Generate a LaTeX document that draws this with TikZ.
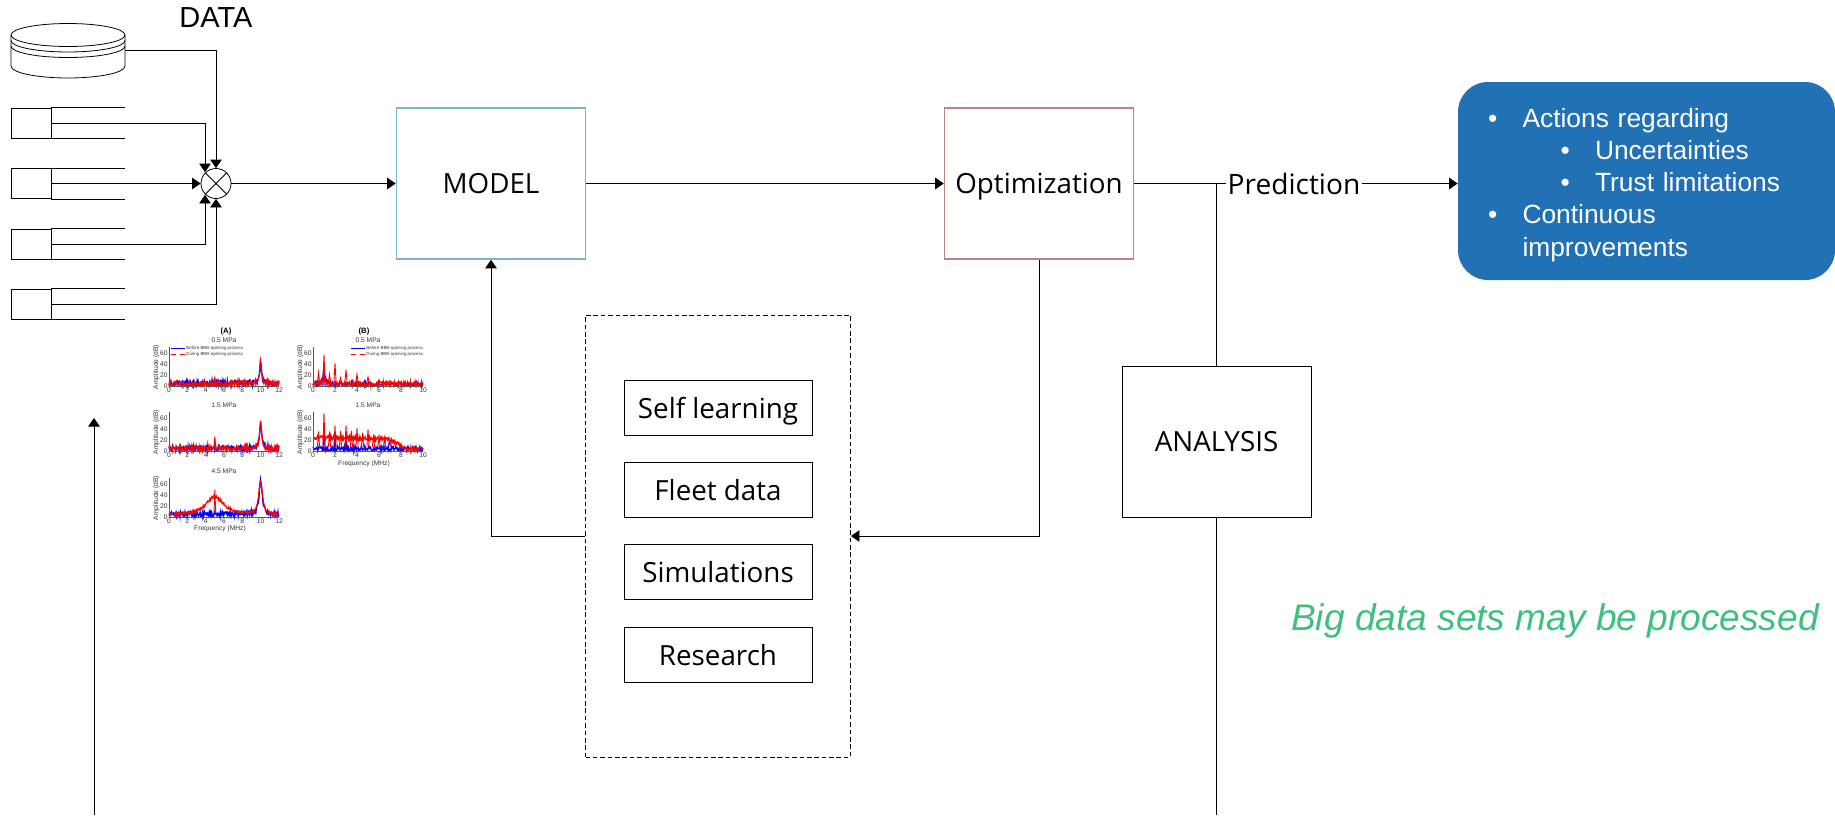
\documentclass[tikz,border=0pt]{standalone}
\usepackage{fontspec}
\setmainfont{Open Sans}
\newfontfamily\arialfont{Liberation Sans}
\usepackage{xcolor}
\usetikzlibrary{arrows.meta, positioning, calc}

\definecolor{boxteal}{HTML}{7FB5C2}
\definecolor{boxred}{HTML}{BC8580}
\definecolor{actblue}{HTML}{2271B5}
\definecolor{biggreen}{HTML}{3DC07C}

% one small spectrum panel: x, y (lower left), xmax, title, red curve, blue curve, red spikes, blue spikes
\newcommand{\specpanel}[8]{
    \begin{scope}[shift={(#1,#2)}, x=2.2cm/#3, y=0.76cm/70]
        \draw[blue, line width=0.7pt] plot[domain=0:#3, samples=220] (\x, {#6});
        \foreach \f/\h in {#8} \draw[blue, line width=0.6pt] (\f-0.1,0) -- (\f,\h) -- (\f+0.1,0);
        \draw[red, line width=0.7pt] plot[domain=0:#3, samples=220] (\x, {#5});
        \foreach \f/\h in {#7} \draw[red, line width=0.5pt] (\f-0.1,7) -- (\f,\h) -- (\f+0.1,7);
        \draw[gray!70!black, line width=0.2pt] (0,72) -- (0,0) -- (#3,0);
        \pgfmathsetmacro{\tickend}{int(#3)}
        \foreach \t in {0,2,...,\tickend} \node (xt\t) [ticklbl, below] at (\t,0) {\t};
        \foreach \t in {0,20,40,60} \node (yt\t) [ticklbl, left] at (0,\t) {\t};
        \node (ampl) [ticklbl, rotate=90] at (-#3*0.115,35) {Amplitude (dB)};
        \node (title) [ticklbl] at (#3/2,84) {#4};
    \end{scope}
}

\pgfmathdeclarefunction{lor}{4}{%
    \pgfmathparse{#3*#4*#4/(#4*#4+(#1-#2)*(#1-#2))}%
}

\begin{document}
\begin{tikzpicture}[
    % Styles
    block/.style={
        rectangle, draw=black, fill=white, line width=0.45pt,
        minimum width=3.78cm, minimum height=3.02cm,
        font=\fontsize{15.8}{18}\selectfont, align=center, text depth=0pt
    },
    source/.style={
        rectangle, draw=black, line width=0.45pt,
        minimum width=3.76cm, minimum height=1.1cm,
        font=\fontsize{15.8}{18}\selectfont, text depth=0pt
    },
    arrow/.style={-{Triangle[length=1.7mm, width=2.3mm]}, line width=0.45pt},
    link/.style={line width=0.45pt},
    ticklbl/.style={font=\arialfont\fontsize{3.8}{4}\selectfont, inner sep=0.6pt, text=black!80}
]
\useasboundingbox (0,0) rectangle (36.7,-16.3);

% === DATABASE ===
\foreach \d in {0,0.11,0.22} \draw[link] (2.5,-0.7-\d) arc[start angle=0, end angle=-180, x radius=1.14, y radius=0.23];
\draw[link] (0.22,-0.7) arc[start angle=180, end angle=0, x radius=1.14, y radius=0.23];
\draw[link] (0.22,-0.7) -- (0.22,-1.32) arc[start angle=180, end angle=360, x radius=1.14, y radius=0.24] -- (2.5,-0.7);
\coordinate (dbout) at (2.5,-1.0);
\node (datalbl) [font=\arialfont\fontsize{16.5}{18}\selectfont] at (4.32,-0.35) {DATA};

% === DATA SOURCES ===
\foreach \n/\y in {1/-2.46,2/-3.67,3/-4.88,4/-6.08} {
    \node (src\n) [rectangle, draw=black, line width=0.45pt, minimum width=0.8cm, minimum height=0.6cm, inner sep=0pt] at (0.62,\y) {};
    \draw[link] (src\n.north east) -- ++(1.48,0);
    \draw[link] (src\n.south east) -- ++(1.48,0);
}

% === MIXER ===
\node (mixer) [circle, draw=black, fill=white, line width=0.45pt, minimum size=0.6cm, inner sep=0pt] at (4.32,-3.67) {};
\draw[link] (mixer.north west) -- (mixer.south east);
\draw[link] (mixer.north east) -- (mixer.south west);

% === MAIN BLOCKS ===
\node (model) [block, draw=boxteal, line width=0.9pt] at (9.82,-3.67) {MODEL};
\node (optim) [block, draw=boxred, line width=0.9pt] at (20.78,-3.67) {Optimization};
\node (analysis) [block] at (24.33,-8.83) {ANALYSIS};
\node (pred) [inner sep=1pt, text depth=0pt, font=\fontsize{16}{18}\selectfont] at (25.88,-3.67) {Prediction};

\node (action) [rectangle, rounded corners=0.6cm, fill=actblue, text=white, minimum width=7.54cm, minimum height=3.96cm,
    text width=6.34cm, align=left, font=\arialfont\fontsize{15}{18.25}\selectfont] at (32.93,-3.62) {
    \rule{0pt}{15.5pt}\makebox[0.69cm][l]{\textbullet}Actions regarding\\
    \hspace*{1.45cm}\makebox[0.69cm][l]{\textbullet}Uncertainties\\
    \hspace*{1.45cm}\makebox[0.69cm][l]{\textbullet}Trust limitations\\
    \makebox[0.69cm][l]{\textbullet}Continuous\\
    \hspace*{0.69cm}improvements};

\node (bigdata) [font=\arialfont\itshape\fontsize{21.1}{24}\selectfont, text=biggreen] at (31.1,-12.42) {Big data sets may be processed};

% === DASHED GROUP ===
\node (group) [rectangle, draw=black, dash pattern=on 2.6pt off 1.6pt, line width=0.45pt, minimum width=5.3cm, minimum height=8.84cm] at (14.36,-10.72) {};
\node (self) [source] at (14.36,-8.15) {Self learning};
\node (fleet) [source] at (14.36,-9.79) {Fleet data};
\node (simul) [source] at (14.36,-11.43) {Simulations};
\node (research) [source] at (14.36,-13.09) {Research};

% === SPECTRA ===
\pgfmathsetseed{7}
\node (figa) [font=\arialfont\bfseries\fontsize{4.4}{5}\selectfont, inner sep=0pt] at (4.52,-6.62) {(A)};
\node (figb) [font=\arialfont\bfseries\fontsize{4.4}{5}\selectfont, inner sep=0pt] at (7.28,-6.62) {(B)};
\specpanel{3.38}{-7.72}{12}{0.5 MPa}{rnd*9+lor(\x,10,45,0.12)}{rnd*10+lor(\x,10,35,0.12)}{5/16}{}
\specpanel{3.38}{-9.02}{12}{1.5 MPa}{rnd*9+lor(\x,10,48,0.15)}{rnd*10+lor(\x,10,40,0.15)}{5/27}{}
\specpanel{3.38}{-10.34}{12}{4.5 MPa}{rnd*5+lor(\x,10,62,0.25)+lor(\x,5,35,1.2)}{rnd*10+lor(\x,10,60,0.2)}{5/50}{}
\specpanel{6.26}{-7.72}{10}{0.5 MPa}{rnd*8+lor(\x,1,15,0.1)}{rnd*7+lor(\x,1,30,0.1)}{0.5/25,1/58,1.5/22,2/42,2.5/15,3/30,3.5/10,4/22,5/17,6/12,7/10}{1/34}
\specpanel{6.26}{-9.02}{10}{1.5 MPa}{rnd*7+(\x<7?18+4*(7-\x)/7:(\x<8.5?18*(8.5-\x)/1.5:0))}{rnd*9}{0.5/36,1/70,1.5/36,2/47,2.5/37,3/47,3.5/37,4/42,4.5/34,5/40,5.5/30,6/30,6.5/24,7/20}{1/43,2/30,3/20}
% panel legends
\foreach \n/\px/\py in {a/3.42/-6.96,b/7.02/-6.96} {
    \draw[blue, line width=0.4pt] (\px,\py) -- ++(0.28,0);
    \draw[red, densely dashed, line width=0.4pt] (\px,\py-0.12) -- ++(0.28,0);
    \node (leg\n) [ticklbl, align=left, anchor=north west, font=\arialfont\fontsize{2.5}{3.4}\selectfont] at (\px+0.28,\py+0.06) {Before BBB-opening process\\During BBB-opening process};
}
\node (freqa) [ticklbl] at (4.4,-10.58) {Frequency (MHz)};
\node (freqb) [ticklbl] at (7.28,-9.28) {Frequency (MHz)};

% === ARROWS ===
% Inputs into the mixer
\draw [arrow] (dbout) -| (mixer.north);
\draw [arrow] (src1.east) -| ($(mixer.north)+(-0.22,-0.08)$);
\draw [arrow] (src2.east) -- (mixer.west);
\draw [arrow] (src3.east) -| ($(mixer.south)+(-0.22,0.08)$);
\draw [arrow] (src4.east) -| (mixer.south);

% Main flow
\draw [arrow] (mixer) -- (model);
\draw [arrow] (model) -- (optim);
\draw [link] (optim) -- (pred);
\draw [arrow] (pred) -- (action.west |- pred);

% Analysis line
\coordinate (tap) at (analysis.north |- pred);
\coordinate (low) at (analysis.south |- 0,-16.3);
\draw [link] (tap) -- (analysis.north);
\draw [link] (analysis.south) -- (low);

% Feedback
\draw [arrow] (optim.south) |- (group.east |- 0,-10.72);
\draw [arrow] (group.west |- 0,-10.72) -| (model.south);

% Free arrow on the left
\coordinate (upfoot) at (1.88,-16.3);
\coordinate (uphead) at (1.88,-8.36);
\draw [arrow] (upfoot) -- (uphead);

\end{tikzpicture}
\end{document}
